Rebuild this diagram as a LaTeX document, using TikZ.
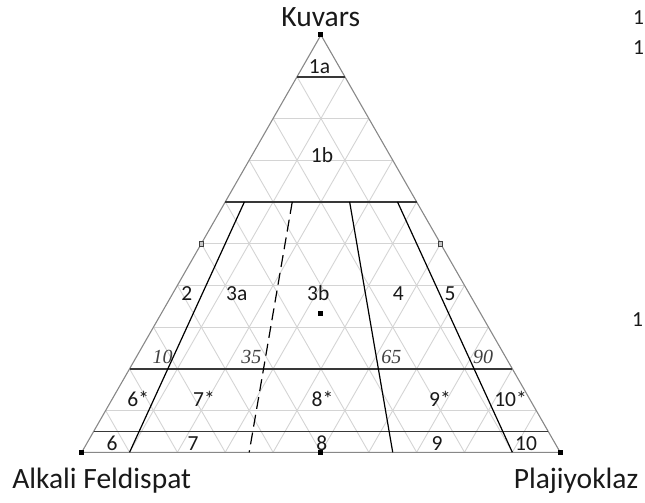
\documentclass[tikz,border=0pt]{standalone}
\usepackage{fontspec}
\setmainfont{Carlito}
\newfontfamily\numfont{Liberation Serif}
\usetikzlibrary{calc}
\definecolor{gridgray}{HTML}{D4D4D4}
\definecolor{framegray}{HTML}{888888}
\newcommand{\tx}[2]{81.7+(#1)*239.25+(#2)*(1-(#1))*478.5}
\newcommand{\ty}[1]{452.3-(#1)*417.3}
\newcommand{\tc}[3]{\coordinate (#1) at ({\tx{#2}{#3}},{\ty{#2}});}
\begin{document}
\begin{tikzpicture}[x=1pt,y=-1pt,
  gridline/.style={draw=gridgray, line width=0.9pt},
  frameline/.style={draw=framegray, line width=1.1pt},
  boundline/.style={draw=black!78, line width=1.6pt},
  divline/.style={draw=black, line width=1.2pt},
  reg/.style={font=\fontsize{21.5}{21.5}\selectfont, anchor=base, inner sep=0pt, text=black!90},
  pct/.style={font=\numfont\itshape\fontsize{20}{20}\selectfont, text=black!75, anchor=base, inner sep=0pt},
  ax/.style={font=\fontsize{29.5}{29.5}\selectfont, anchor=base, inner sep=0pt, text=black!90},
  sq/.style={fill=black, minimum size=5pt, inner sep=0pt, draw=none, rectangle},
  sqmid/.style={draw=black!75, fill=gray!45, minimum size=4.5pt, inner sep=0pt, line width=0.8pt, rectangle},
]
\useasboundingbox (0,0) rectangle (645,503);
% grid
\foreach \i in {1,...,9} {
  \pgfmathsetmacro\f{\i/10}
  \pgfmathsetmacro\g{1-\f}
  \draw[gridline] ({\tx{\f}{0}},{\ty{\f}}) -- ({\tx{\f}{1}},{\ty{\f}});
  \draw[gridline] ({\tx{0}{\f}},{\ty{0}}) -- ({\tx{\g}{1}},{\ty{\g}});
  \draw[gridline] ({\tx{0}{\g}},{\ty{0}}) -- ({\tx{\g}{0}},{\ty{\g}});
}
% corners
\coordinate (A) at (81.7,452.3);
\coordinate (P) at (560.2,452.3);
\coordinate (Q) at (320.95,35);
\draw[frameline] (A) -- (P) -- (Q) -- cycle;
% horizontal boundaries
\tc{q90l}{0.9}{0} \tc{q90r}{0.9}{1}
\tc{q60l}{0.6}{0} \tc{q60r}{0.6}{1}
\tc{q20l}{0.2}{0} \tc{q20r}{0.2}{1}
\tc{q5l}{0.05}{0} \tc{q5r}{0.05}{1}
\draw[boundline] (q90l) -- (q90r);
\draw[boundline] (q60l) -- (q60r);
\draw[boundline] (q20l) -- (q20r);
\draw[boundline] (q5l) -- (q5r);
% radial boundaries
\tc{r10t}{0.6}{0.1}  \tc{r10b}{0}{0.1}
\tc{r35t}{0.6}{0.35} \tc{r35b}{0}{0.35}
\tc{r65t}{0.6}{0.65} \tc{r65b}{0}{0.65}
\tc{r90t}{0.6}{0.9}  \tc{r90b}{0}{0.9}
\draw[divline] (r10t) -- (r10b);
\draw[divline, dash pattern=on 12pt off 6pt] (r35t) -- (r35b);
\draw[divline] (r65t) -- (r65b);
\draw[divline] (r90t) -- (r90b);
% markers
\tc{cB}{0}{0.5} \tc{cC}{0.33333}{0.5} \tc{cL}{0.5}{0} \tc{cR}{0.5}{1}
\node[sq] (mQ) at (Q) {};
\node[sq] (mA) at (A) {};
\node[sq] (mP) at (P) {};
\node[sq] (mB) at (cB) {};
\node[sq] (mC) at (cC) {};
\node[sqmid] (mL) at (cL) {};
\node[sqmid] (mR) at (cR) {};
% axis labels
\node[ax] (lQ) at (320.8,26.7) {Kuvars};
\node[ax] (lA) at (101.7,488) {Alkali Feldispat};
\node[ax] (lP) at (576,488) {Plajiyoklaz};
% field labels
\node[reg] (f1a) at (319.5,74) {1a};
\node[reg] (f1b) at (322,162.5) {1b};
\node[reg] (f2) at (186.7,300) {2};
\node[reg] (f3a) at (236.7,300) {3a};
\node[reg] (f3b) at (318.3,300) {3b};
\node[reg] (f4) at (398.3,300) {4};
\node[reg] (f5) at (450,300) {5};
\node[reg] (f6s) at (138.3,406) {6*};
\node[reg] (f7s) at (204,406) {7*};
\node[reg] (f8s) at (322.5,406) {8*};
\node[reg] (f9s) at (440,406) {9*};
\node[reg] (f10s) at (510.5,406) {10*};
\node[reg] (f6) at (112,450) {6};
\node[reg] (f7) at (193,450) {7};
\node[reg] (f8) at (321.7,450) {8};
\node[reg] (f9) at (437,450) {9};
\node[reg] (f10) at (526,450) {10};
% percentage labels
\node[pct] (p10) at (162.5,363) {10};
\node[pct] (p35) at (251.3,363) {35};
\node[pct] (p65) at (391.3,363) {65};
\node[pct] (p90) at (483,363) {90};
% texts at the right edge
\node[reg, anchor=base west] (e1) at (633,25) {1};
\node[reg, anchor=base west] (e2) at (633,55) {1};
\node[reg, anchor=base west] (e3) at (632,326.5) {1};
\end{tikzpicture}
\end{document}
